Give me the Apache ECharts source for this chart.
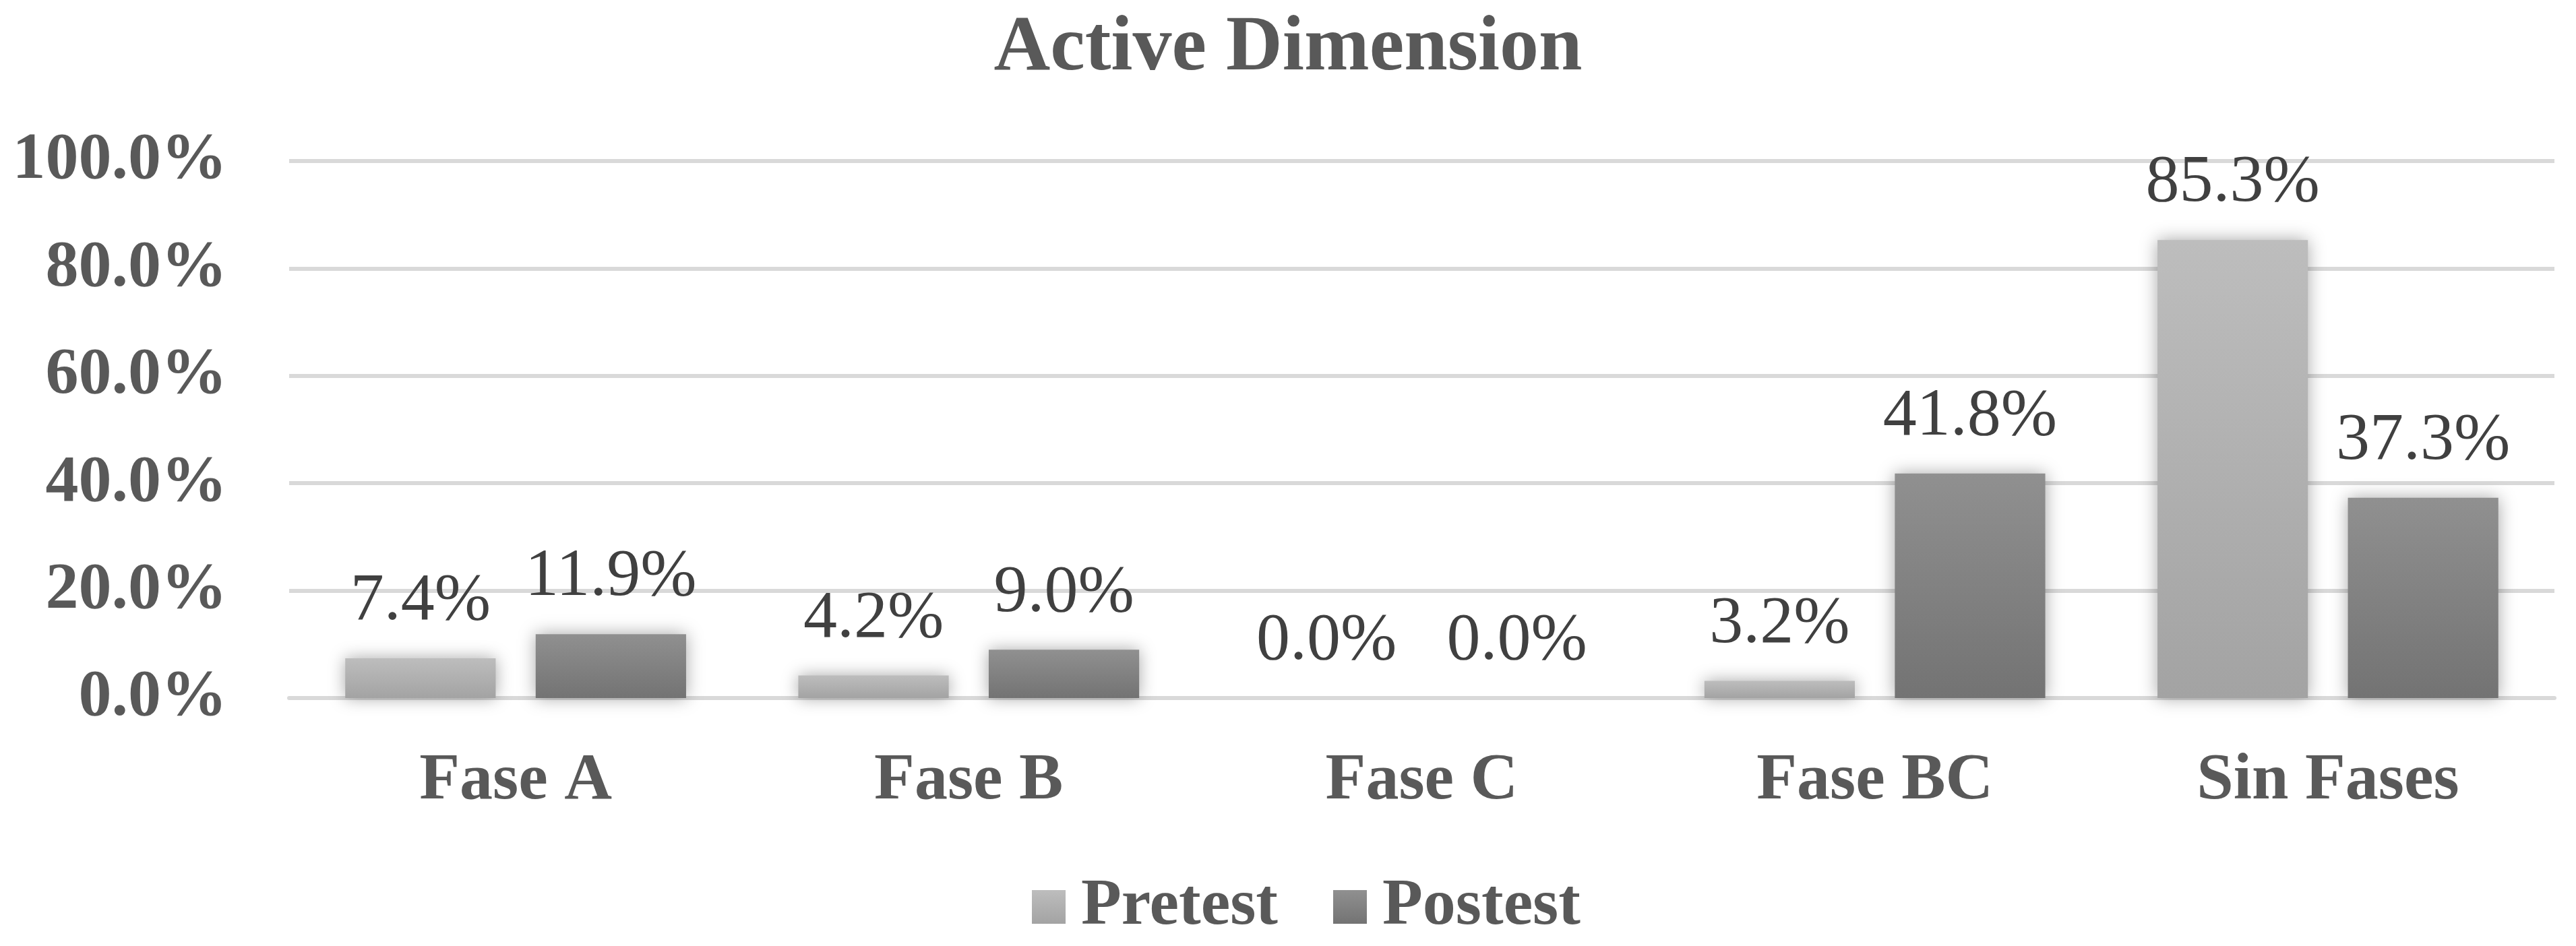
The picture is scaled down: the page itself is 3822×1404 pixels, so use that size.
<!DOCTYPE html>
<html>
<head>
<meta charset="utf-8">
<script src="https://cdn.jsdelivr.net/npm/echarts@6/dist/echarts.min.js"></script>
<style>
html,body{margin:0;padding:0;background:#fff;}
#chart{width:3822px;height:1404px;}
</style>
</head>
<body>
<div id="chart"></div>
<script>
const titleText = 'Active Dimension';
const categories = ['Fase A', 'Fase B', 'Fase C', 'Fase BC', 'Sin Fases'];
const seriesNames = ['Pretest', 'Postest'];
const pretest = [7.4, 4.2, 0.0, 3.2, 85.3];
const postest = [11.9, 9.0, 0.0, 41.8, 37.3];
const yTicks = [0, 20, 40, 60, 80, 100];

const FONT = '"Liberation Serif", "Times New Roman", serif';
const chart = echarts.init(document.getElementById('chart'));

function grad(top, bottom) {
  return new echarts.graphic.LinearGradient(0, 0, 0, 1, [
    { offset: 0, color: top },
    { offset: 1, color: bottom }
  ]);
}

const labelCfg = {
  show: true,
  position: 'top',
  distance: 34,
  color: '#404040',
  fontFamily: FONT,
  fontSize: 100,
  formatter: p => p.value.toFixed(1) + '%'
};

const option = {
  backgroundColor: '#ffffff',
  animation: false,
  title: {
    text: titleText,
    left: 'center',
    top: 10,
    textStyle: { fontFamily: FONT, fontWeight: 'bold', fontSize: 116, color: '#595959' }
  },
  legend: {
    data: seriesNames,
    left: 1526,
    top: 1292,
    icon: 'rect',
    itemWidth: 50,
    itemHeight: 50,
    itemGap: 82,
    textStyle: { fontFamily: FONT, fontWeight: 'bold', fontSize: 98, color: '#595959', padding: [0, 0, 0, 18] }
  },
  grid: { left: 429, right: 32, top: 239, bottom: 368, containLabel: false },
  xAxis: {
    type: 'category',
    data: categories,
    axisLine: { show: true, lineStyle: { color: '#d9d9d9', width: 6 } },
    axisTick: { show: false },
    axisLabel: { margin: 75, fontFamily: FONT, fontWeight: 'bold', fontSize: 98, color: '#595959' }
  },
  yAxis: {
    type: 'value',
    min: 0,
    max: 100,
    interval: 20,
    axisLine: { show: false },
    axisTick: { show: false },
    splitLine: { lineStyle: { color: '#d9d9d9', width: 6 } },
    axisLabel: {
      margin: 92,
      fontFamily: FONT, fontWeight: 'bold', fontSize: 98, color: '#595959',
      formatter: v => yTicks.includes(v) ? v.toFixed(1) + '%' : ''
    }
  },
  series: [
    {
      name: seriesNames[0],
      type: 'bar',
      data: pretest,
      barWidth: '33.2%',
      barGap: '26.6%',
      itemStyle: {
        color: grad('#bdbdbd', '#a3a3a3'),
        shadowBlur: 24,
        shadowColor: 'rgba(0,0,0,0.35)'
      },
      label: labelCfg
    },
    {
      name: seriesNames[1],
      type: 'bar',
      data: postest,
      barWidth: '33.2%',
      barGap: '26.6%',
      itemStyle: {
        color: grad('#909090', '#737373'),
        shadowBlur: 24,
        shadowColor: 'rgba(0,0,0,0.35)'
      },
      label: labelCfg
    }
  ]
};
chart.setOption(option);
</script>
</body>
</html>
